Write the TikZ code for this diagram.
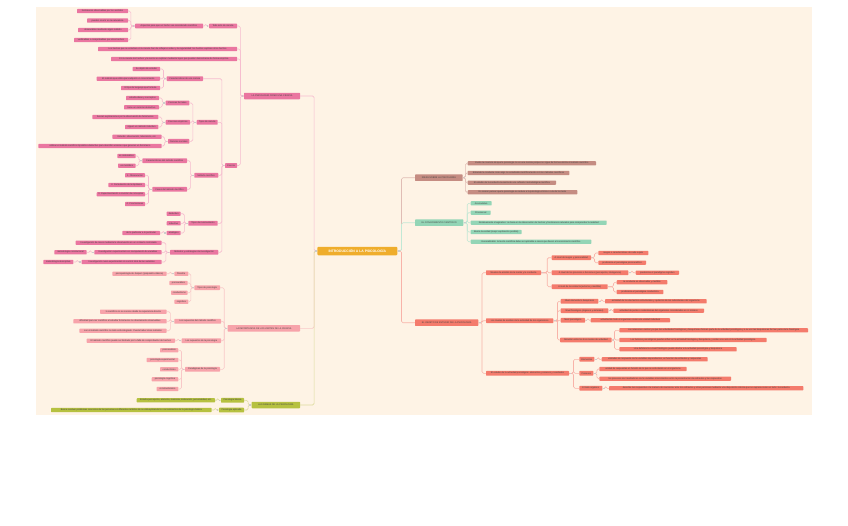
\documentclass[tikz,border=0pt]{standalone}
\usepackage{fontspec}
\setmainfont{Liberation Sans}
\definecolor{bgpeach}{HTML}{FEF3E5}
\definecolor{pinkA}{HTML}{EA76A0}
\definecolor{pinkL}{HTML}{F6BBCF}
\definecolor{roseA}{HTML}{F7A3AA}
\definecolor{roseL}{HTML}{F8C8C8}
\definecolor{oliveA}{HTML}{B6C140}
\definecolor{oliveL}{HTML}{DCDC9E}
\definecolor{goldA}{HTML}{EFAD2C}
\definecolor{brownA}{HTML}{C58C82}
\definecolor{brownL}{HTML}{E0BDB5}
\definecolor{mintA}{HTML}{93D5B6}
\definecolor{mintL}{HTML}{C2E8D5}
\definecolor{coralA}{HTML}{F47B6C}
\definecolor{coralL}{HTML}{F8B3A9}
\newcommand\mapfont{\fontsize{2.3}{2.6}\selectfont}
% box from left edge #3 to right edge #4 at height #5
\newcommand\bx[6]{\node[#1,minimum width={(#4-#3)*1pt}] (#2) at ({(#3+#4)/2},#5) {#6};}
% elbow links, parent #2 to child #3, spine at distance #4
\newcommand\lkl[4]{\draw[#1] (#2.west) -- ++(-#4,0) |- (#3.east);
  \fill[gray!40] (#2.west) ++(-2.1,-0.75) rectangle ++(1.5,1.5);}
\newcommand\lkr[4]{\draw[#1] (#2.east) -- ++(#4,0) |- (#3.west);
  \fill[gray!40] (#2.east) ++(0.6,-0.75) rectangle ++(1.5,1.5);}
\tikzset{
  leaf/.style={rounded corners=0.6pt,inner xsep=1pt,inner ysep=0.3pt,minimum height=4.2pt,
    text=black!75,font=\mapfont},
  sub/.style={minimum height=4.7pt},
  branch/.style={minimum height=6.5pt},
  pk/.style={leaf,fill=pinkA}, rs/.style={leaf,fill=roseA}, ol/.style={leaf,fill=oliveA},
  br/.style={leaf,fill=brownA}, mt/.style={leaf,fill=mintA}, cr/.style={leaf,fill=coralA},
  hub/.style={fill=goldA,rounded corners=1pt,minimum height=8.5pt,inner sep=0.5pt,
    text=white,font=\fontsize{3.4}{4}\selectfont\bfseries},
  wire/.style={line width=0.6pt,rounded corners=1.5pt},
  pkl/.style={wire,pinkL}, rsl/.style={wire,roseL}, oll/.style={wire,oliveL},
  brl/.style={wire,brownL}, mtl/.style={wire,mintL}, crl/.style={wire,coralL}
}
\begin{document}
\begin{tikzpicture}[x=1pt,y=-1pt]
\useasboundingbox (0,0) rectangle (848,525);
\fill[bgpeach] (36,7) rectangle (812,415);
\bx{hub}{cen}{317.3}{397.3}{251}{INTRODUCCIÓN A LA PSICOLOGÍA}
% ciencia branch
\bx{pk,branch}{psc}{244}{300}{96}{LA PSICOLOGÍA COMO UNA CIENCIA}
\bx{pk,sub}{tac}{209}{237}{26}{Todo acto de ciencia}
\bx{pk,sub}{asp}{135}{203}{26}{Aspectos para que un hecho sea considerado científico}
\bx{pk}{a1}{77}{128}{11}{fenómenos observables por los sentidos}
\bx{pk}{a2}{87}{128}{20.5}{pueden ocurrir en la naturaleza}
\bx{pk}{a3}{78}{128}{30}{observables mediante algún método}
\bx{pk}{a4}{74}{128}{40}{verificables o comprobables por otros hechos}
\bx{pk}{h1}{98}{237}{49}{Los hechos que se estudian en la ciencia han de reflejar el orden y la regularidad: los hechos explican otros hechos}
\bx{pk}{h2}{111}{237}{59}{En la ciencia los hechos y la teoría se explican mediante leyes que pueden demostrarse de forma empírica}
\bx{pk,sub}{cie}{225}{237}{165.5}{Ciencia}
\bx{pk,sub}{car}{166.7}{203}{78.7}{Características de una ciencia}
\bx{pk}{c1}{132.7}{160}{69}{Su objeto de estudio}
\bx{pk}{c2}{96.7}{160}{78.7}{El método que utiliza para adquirir un conocimiento}
\bx{pk}{c3}{121}{160}{88}{El tipo de lenguaje que formula}
\bx{pk,sub}{tip}{196.7}{217.7}{122.3}{Tipos de ciencia}
\bx{pk,sub}{cf}{165.7}{189.3}{103}{Ciencias formales}
\bx{pk}{f1}{126}{159}{98}{estudia ideas y conceptos}
\bx{pk}{f2}{124}{159}{107.3}{tiene un carácter deductivo}
\bx{pk,sub}{ce}{165.7}{190}{122.3}{Ciencias empíricas}
\bx{pk}{e1}{92.3}{158.3}{117}{buscan explicaciones por la observación de fenómenos}
\bx{pk}{e2}{125}{158.3}{127}{siguen un método inductivo}
\bx{pk,sub}{cs}{168}{189.3}{141.3}{Ciencias sociales}
\bx{pk}{s1}{112.3}{161.7}{136.7}{Estudio: observación, laboratorio, etc.}
\bx{pk}{s2}{38.3}{161.7}{146}{utilizan el método científico hipotético-deductivo para describir acciones que generan un fenómeno}
\bx{pk,sub}{met}{194.3}{218.3}{175.3}{Método científico}
\bx{pk,sub}{cm}{142.3}{187}{160.7}{Características del método científico}
\bx{pk}{m1}{117.3}{135.7}{156}{es sistemático}
\bx{pk}{m2}{118}{135.7}{165.7}{es metódico}
\bx{pk,sub}{fm}{152.3}{187}{189.3}{Fases del método científico}
\bx{pk}{p1}{125}{145}{175.3}{1. Observación}
\bx{pk}{p2}{108.3}{145}{185}{2. Formulación de la hipótesis}
\bx{pk}{p3}{96.7}{145}{194.3}{3. Experimentación o revisión de conceptos}
\bx{pk}{p4}{125}{145}{204}{4. Conclusiones}
\bx{pk,sub}{raz}{188.3}{217.7}{223.3}{Tipos de razonamiento}
\bx{pk}{r1}{166.7}{180.7}{213.7}{deductivo}
\bx{pk}{r2}{166.7}{180.7}{223.3}{inductivo}
\bx{pk}{r3}{166.7}{180.7}{233}{analógico}
\bx{pk}{r3a}{122.3}{160}{233}{de lo particular a lo particular}
\bx{pk,sub}{mei}{170}{218.3}{252.3}{Métodos y estrategias de investigación}
\bx{pk}{i1}{75.7}{161.7}{242.7}{Investigación de casos mediante la observación en un contexto controlado}
\bx{pk}{i2}{94.3}{161.7}{252.3}{Investigación experimental con manipulación de variables}
\bx{pk}{i2a}{54.3}{86.7}{252.3}{metodología correlacional}
\bx{pk}{i3}{81.7}{161.7}{262}{Investigación cuasi-experimental sin control total de las variables}
\bx{pk}{i3a}{43.3}{73.3}{262}{metodología descriptiva}
% limites branch
\bx{rs,branch}{lim}{227.7}{300}{328.3}{LA IMPORTANCIA DE LOS LÍMITES DE LA CIENCIA}
\bx{rs,sub}{tps}{194.3}{220}{287.7}{Tipos de psicología}
\bx{rs}{t1}{174.3}{188.3}{273.7}{filosofía}
\bx{rs}{t1a}{112.3}{166.7}{273.7}{psicopatología de Jaspers (psiquiatría clásica)}
\bx{rs}{t2}{169.3}{187.7}{283}{psicoanálisis}
\bx{rs}{t3}{171}{187.7}{292.7}{conductismo}
\bx{rs}{t4}{174.3}{188.3}{301.7}{cognitiva}
\bx{rs,sub}{smc}{174.3}{221}{321.3}{Los supuestos del método científico}
\bx{rs}{u1}{100}{166.7}{311.7}{lo científico no se conoce desde la experiencia directa}
\bx{rs}{u2}{73.3}{166.7}{321.3}{dificultad para ser científico al estudiar fenómenos no directamente observables}
\bx{rs}{u3}{79.3}{166.7}{330.7}{con el método científico no todo está integrado. Puede haber otros métodos}
\bx{rs,sub}{sps}{181.7}{221}{340.7}{Los supuestos de la psicología}
\bx{rs}{v1}{86.7}{175}{340.7}{El método científico puede ser limitado por la falta de comprobación de hechos}
\bx{rs,sub}{par}{185}{220}{369.3}{Paradigmas de la psicología}
\bx{rs}{q1}{160}{178.3}{350.3}{psicoanálisis}
\bx{rs}{q2}{146.7}{178.3}{360}{psicología experimental}
\bx{rs}{q3}{160}{178.3}{369.3}{conductismo}
\bx{rs}{q4}{151.7}{178.3}{379.3}{psicología cognitiva}
\bx{rs}{q5}{156.7}{178.3}{389}{constructivismo}
% ramas branch
\bx{ol,branch}{ram}{251.7}{300}{405}{LAS RAMAS DE LA PSICOLOGÍA}
\bx{ol,sub}{pb}{221}{244}{400.3}{Psicología básica}
\bx{ol}{pb1}{136.7}{215}{400.3}{Estudia percepción, atención, memoria, motivación, personalidad, etc.}
\bx{ol,sub}{pa}{219}{244}{410}{Psicología aplicada}
\bx{ol}{pa1}{51}{211.7}{410}{Busca resolver problemas concretos de las personas en diferentes ámbitos de su vida aplicando los conocimientos de la psicología básica}
% ideas branch
\bx{br,branch}{ide}{415}{462.7}{177.7}{IDEAS SOBRE LA PSICOLOGÍA}
\bx{br}{d1}{467.7}{596}{163.3}{Existe la creencia de que la psicología no es una ciencia porque no sigue de forma estricta el método científico}
\bx{br}{d2}{467.7}{569.3}{173}{Entiende la conducta como algo no estudiable científicamente con los métodos científicos}
\bx{br}{d3}{467.7}{556}{182.7}{El estudio de la conducta necesita de una reflexión metodológica científica}
\bx{br}{d4}{467.7}{577.3}{192.3}{Es común pensar que la psicología se reduce a la psicología clínica o a la de los tests}
% conocimiento branch
\bx{mt,branch}{con}{415}{463.3}{222.7}{EL CONOCIMIENTO CIENTÍFICO}
\bx{mt}{k1}{470.7}{491.7}{203.3}{Acumulativo}
\bx{mt}{k2}{470.7}{490.7}{212.7}{Provisional}
\bx{mt}{k3}{470.7}{606.7}{222.7}{Relativamente imaginativo: se basa en la observación de hechos y fenómenos naturales para comprender la realidad}
\bx{mt}{k4}{470.7}{521.7}{232}{Busca la verdad (mejor explicación posible)}
\bx{mt}{k5}{470.7}{591.3}{241.7}{Generalizable: la teoría científica debe ser aplicable a casos que lleven al conocimiento científico}
% objeto branch
\bx{cr,branch}{obj}{415}{478.3}{322.7}{EL OBJETO DE ESTUDIO DE LA PSICOLOGÍA}
\bx{cr,sub}{na}{486}{541}{272.7}{Niveles de análisis de la mente y la conducta}
\bx{cr,sub}{n1}{551.7}{591}{257.7}{A nivel de rasgos y personalidad}
\bx{cr}{n1a}{598.3}{648.3}{253}{rasgos o características de cada sujeto}
\bx{cr}{n1b}{598.3}{646}{262.7}{predomina el paradigma psicoanalítico}
\bx{cr,sub}{n2}{551.7}{628.3}{272.7}{A nivel de los procesos o funciones (percepción, inteligencia)}
\bx{cr}{n2a}{635.7}{679}{272.7}{predomina el paradigma cognitivo}
\bx{cr,sub}{n3}{551.7}{607.7}{286.7}{A nivel de la conducta (externa y medible)}
\bx{cr}{n3a}{616.7}{667.3}{282.3}{la conducta es observable y medible}
\bx{cr}{n3b}{616.7}{663.3}{292}{predomina el paradigma conductista}
\bx{cr,sub}{nb}{486}{553.3}{320.7}{Los niveles de análisis de la actividad de los organismos}
\bx{cr,sub}{o1}{560.7}{598.3}{301.3}{Nivel elemental o bioquímico}
\bx{cr}{o1a}{605}{706.7}{301.3}{actividad de los elementos estructurales y químicos de los subsistemas del organismo}
\bx{cr,sub}{o2}{560.7}{608.3}{310.7}{Nivel fisiológico (órganos y sistemas)}
\bx{cr}{o2a}{613.3}{704}{310.7}{actividad de partes o subsistemas del organismo considerados en sí mismos}
\bx{cr,sub}{o3}{560.7}{585}{320.3}{Nivel psicológico}
\bx{cr}{o3a}{590.7}{670}{320.3}{actividad de todo el organismo como una unidad individual}
\bx{cr,sub}{o4}{560}{611.7}{340}{Relación entre los tres niveles de actividad}
\bx{cr}{o4a}{619.3}{808}{330.3}{Las relaciones existen ya que las actividades fisiológicas y bioquímicas forman parte de la actividad psicológica y a su vez las bioquímicas forman parte de la fisiológica}
\bx{cr}{o4b}{619.3}{766.7}{340}{Los factores psicológicos pueden influir en la actividad fisiológica y bioquímica, y estas a su vez en la actividad psicológica}
\bx{cr}{o4c}{619.3}{736.7}{349.3}{Una deficiencia a nivel fisiológico puede afectar a la actividad psicológica y bioquímica}
\bx{cr,sub}{nc}{486}{569}{373.3}{El estudio de la actividad psicológica: elementos, procesos y resultados}
\bx{cr,sub}{g1}{579.3}{594.3}{359.3}{Elementos}
\bx{cr}{g1a}{601.7}{707.7}{359.3}{unidades de respuesta como variables dependientes, en función de estímulos y respuestas}
\bx{cr,sub}{g2}{579.3}{593.3}{373.3}{Procesos}
\bx{cr}{g2a}{599.3}{686.7}{369}{unidad de respuestas en función de lo que se está dando en el organismo}
\bx{cr}{g2b}{599.3}{731}{378.7}{los procesos son mediadores como variables intervinientes entre la presentación de estímulos y las respuestas}
\bx{cr,sub}{g3}{579.3}{602.3}{388.3}{El todo orgánico}
\bx{cr}{g3a}{609}{803.3}{388.3}{describe las respuestas o la manera de reaccionar ante los estímulos y otras personas mediante una disposición interna que se expresa como un todo: la conducta}
% links, left side
\lkl{pkl}{cen}{psc}{3}
\lkl{rsl}{cen}{lim}{3}
\lkl{oll}{cen}{ram}{3}
\foreach \c in {tac,h1,h2,cie} {\lkl{pkl}{psc}{\c}{3.5}}
\lkl{pkl}{tac}{asp}{3}
\foreach \c in {a1,a2,a3,a4} {\lkl{pkl}{asp}{\c}{4}}
\foreach \c in {car,tip,met,raz,mei} {\lkl{pkl}{cie}{\c}{3}}
\foreach \c in {c1,c2,c3} {\lkl{pkl}{car}{\c}{3}}
\foreach \c in {cf,ce,cs} {\lkl{pkl}{tip}{\c}{3.7}}
\foreach \c in {f1,f2} {\lkl{pkl}{cf}{\c}{3.3}}
\foreach \c in {e1,e2} {\lkl{pkl}{ce}{\c}{3.7}}
\foreach \c in {s1,s2} {\lkl{pkl}{cs}{\c}{3.2}}
\foreach \c in {cm,fm} {\lkl{pkl}{met}{\c}{3.8}}
\foreach \c in {m1,m2} {\lkl{pkl}{cm}{\c}{3.3}}
\foreach \c in {p1,p2,p3,p4} {\lkl{pkl}{fm}{\c}{3.6}}
\foreach \c in {r1,r2,r3} {\lkl{pkl}{raz}{\c}{3.8}}
\lkl{pkl}{r3}{r3a}{3.3}
\foreach \c in {i1,i2,i3} {\lkl{pkl}{mei}{\c}{4}}
\lkl{pkl}{i2}{i2a}{3.8}
\lkl{pkl}{i3}{i3a}{4.2}
\foreach \c in {tps,smc,sps,par} {\lkl{rsl}{lim}{\c}{3.3}}
\foreach \c in {t1,t2,t3,t4} {\lkl{rsl}{tps}{\c}{3.3}}
\lkl{rsl}{t1}{t1a}{3.8}
\foreach \c in {u1,u2,u3} {\lkl{rsl}{smc}{\c}{3.8}}
\lkl{rsl}{sps}{v1}{3.3}
\foreach \c in {q1,q2,q3,q4,q5} {\lkl{rsl}{par}{\c}{3.3}}
\foreach \c in {pb,pa} {\lkl{oll}{ram}{\c}{3.4}}
\lkl{oll}{pb}{pb1}{3}
\lkl{oll}{pa}{pa1}{3.6}
% links, right side
\lkr{brl}{cen}{ide}{4}
\lkr{mtl}{cen}{con}{4}
\lkr{crl}{cen}{obj}{4}
\foreach \c in {d1,d2,d3,d4} {\lkr{brl}{ide}{\c}{2.5}}
\foreach \c in {k1,k2,k3,k4,k5} {\lkr{mtl}{con}{\c}{3.7}}
\foreach \c in {na,nb,nc} {\lkr{crl}{obj}{\c}{3.5}}
\foreach \c in {n1,n2,n3} {\lkr{crl}{na}{\c}{6}}
\foreach \c in {n1a,n1b} {\lkr{crl}{n1}{\c}{3.3}}
\lkr{crl}{n2}{n2a}{3.5}
\foreach \c in {n3a,n3b} {\lkr{crl}{n3}{\c}{5.6}}
\foreach \c in {o1,o2,o3,o4} {\lkr{crl}{nb}{\c}{4}}
\lkr{crl}{o1}{o1a}{3.3}
\lkr{crl}{o2}{o2a}{2.5}
\lkr{crl}{o3}{o3a}{2.8}
\foreach \c in {o4a,o4b,o4c} {\lkr{crl}{o4}{\c}{2.6}}
\foreach \c in {g1,g2,g3} {\lkr{crl}{nc}{\c}{4.3}}
\lkr{crl}{g1}{g1a}{3.7}
\foreach \c in {g2a,g2b} {\lkr{crl}{g2}{\c}{3.4}}
\lkr{crl}{g3}{g3a}{3.3}
\end{tikzpicture}
\end{document}
